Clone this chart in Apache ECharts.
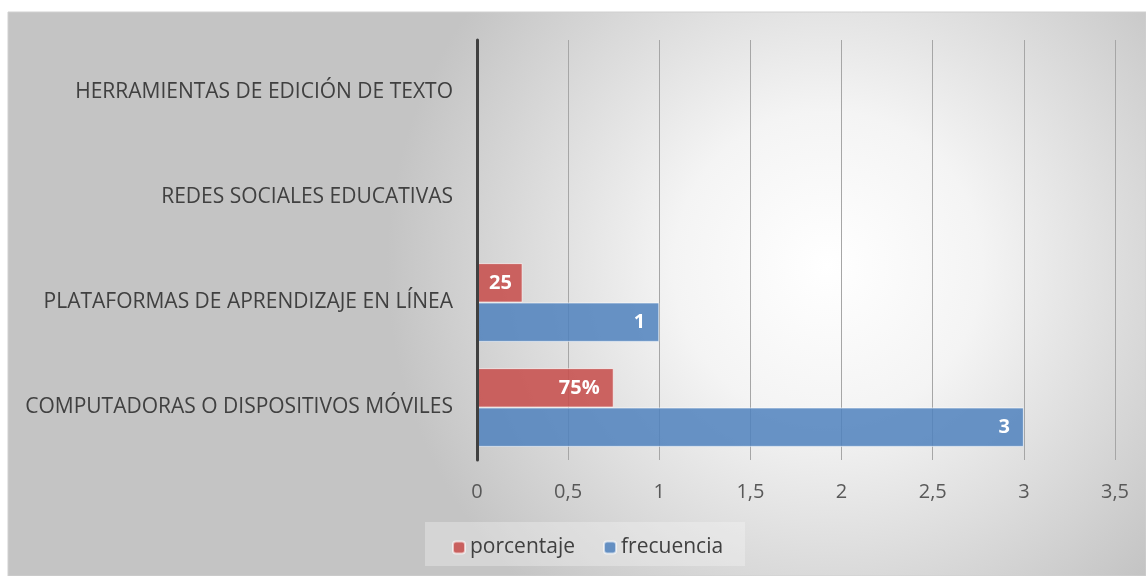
<!DOCTYPE html>
<html><head><meta charset="utf-8">
<script src="https://cdn.jsdelivr.net/npm/echarts@6/dist/echarts.min.js"></script>
<style>html,body{margin:0;padding:0;background:#fff}#c{width:1146px;height:576px}</style>
</head><body><div id="c"></div>
<script>
const categories = ['COMPUTADORAS O DISPOSITIVOS MÓVILES','PLATAFORMAS DE APRENDIZAJE EN LÍNEA','REDES SOCIALES EDUCATIVAS','HERRAMIENTAS DE EDICIÓN DE TEXTO'];
const porcentaje = [0.75, 0.25, 0, 0];
const frecuencia = [3, 1, 0, 0];
const seriesNames = ['porcentaje','frecuencia'];
const xTicks = {min: 0, max: 3.5, interval: 0.5};

const FONT = '"Open Sans", sans-serif';
const chart = echarts.init(document.getElementById('c'));
const lblBase = {show: true, position: 'insideRight', distance: 14, color: '#fff', fontWeight: 'bold', fontSize: 20, fontFamily: FONT};
function mkData(vals, smallLimit) {
  return vals.map(v => {
    if (v === 0) return {value: v, label: {show: false}, itemStyle: {borderWidth: 0}};
    if (smallLimit && v < smallLimit) return {value: v, label: {position: 'insideLeft', distance: 12, width: 34, overflow: 'truncate', ellipsis: ''}};
    return {value: v};
  });
}
chart.setOption({
  animation: false,
  graphic: [{
    type: 'rect', z: -10, silent: true,
    shape: {x: 8, y: 12, width: 1138, height: 564},
    style: {fill: {type: 'radial', x: 0.72, y: 0.45, r: 0.78,
      colorStops: [{offset: 0, color: '#ffffff'}, {offset: 0.35, color: '#f4f4f4'}, {offset: 1, color: '#c4c4c4'}]},
      stroke: '#d0d0d0', lineWidth: 1}
  }, {
    type: 'rect', z: -5, silent: true,
    shape: {x: 425, y: 522, width: 320, height: 44},
    style: {fill: 'rgba(245,245,245,0.35)'}
  }],
  grid: {left: 477, right: 31, top: 40, bottom: 116},
  legend: {
    left: 447, top: 532, itemWidth: 12, itemHeight: 12, itemGap: 28,
    textStyle: {fontSize: 21, color: '#404040', fontFamily: FONT},
    data: seriesNames
  },
  xAxis: {
    type: 'value', min: xTicks.min, max: xTicks.max, interval: xTicks.interval,
    axisLine: {show: false}, axisTick: {show: false},
    splitLine: {lineStyle: {color: '#a6a6a6', width: 1}},
    axisLabel: {fontSize: 20, color: '#595959', margin: 22, fontFamily: FONT,
      formatter: v => String(v).replace('.', ',')}
  },
  yAxis: {
    type: 'category', data: categories, z: 10,
    axisLine: {lineStyle: {color: '#404040', width: 3}},
    axisTick: {show: false},
    axisLabel: {fontSize: 21, color: '#404040', margin: 24, fontFamily: FONT}
  },
  series: [{
    name: seriesNames[0], type: 'bar', barGap: '0%', barCategoryGap: '25%',
    itemStyle: {color: 'rgba(199,80,77,0.88)', borderColor: 'rgba(255,255,255,0.6)', borderWidth: 1},
    label: Object.assign({}, lblBase, {formatter: p => Math.round(p.value * 100) + '%'}),
    data: mkData(porcentaje, 0.3)
  }, {
    name: seriesNames[1], type: 'bar', barGap: '0%', barCategoryGap: '25%',
    itemStyle: {color: 'rgba(79,129,189,0.85)', borderColor: 'rgba(255,255,255,0.6)', borderWidth: 1},
    label: Object.assign({}, lblBase, {formatter: p => String(p.value)}),
    data: mkData(frecuencia)
  }]
});
</script></body></html>
